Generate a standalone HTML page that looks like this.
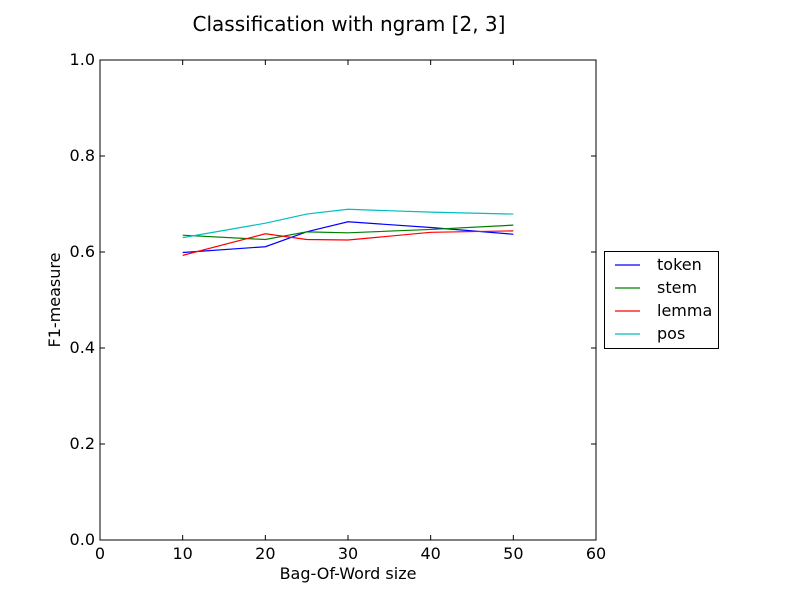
<!DOCTYPE html>
<html><head><meta charset="utf-8"><style>
body{margin:0;background:#fff;}
svg{display:block;font-family:"DejaVu Sans","Liberation Sans",sans-serif;}
</style></head><body>
<svg id="chart" width="800" height="600"></svg>
<script>
const xValues = [10, 20, 25, 30, 40, 50];
const seriesNames = ["token", "stem", "lemma", "pos"];
const tokenValues = [0.599, 0.611, 0.642, 0.663, 0.651, 0.637];
const stemValues = [0.635, 0.626, 0.642, 0.640, 0.647, 0.656];
const lemmaValues = [0.593, 0.638, 0.626, 0.625, 0.641, 0.644];
const posValues = [0.630, 0.660, 0.679, 0.689, 0.683, 0.679];
const xTicks = [0, 10, 20, 30, 40, 50, 60];
const yTicks = [0.0, 0.2, 0.4, 0.6, 0.8, 1.0];

const NS = "http://www.w3.org/2000/svg";
const svg = document.getElementById("chart");
const L = 100, R = 596, T = 60, B = 540;
const xs = v => L + (v - 0) / 60 * (R - L);
const ys = v => B - v * (B - T);
function mk(tag, attrs, parent) {
  const e = document.createElementNS(NS, tag);
  for (const k in attrs) e.setAttribute(k, attrs[k]);
  (parent || svg).appendChild(e);
  return e;
}
const colors = ["#0000ff", "#008000", "#ff0000", "#00bfbf"];
const allSeries = [tokenValues, stemValues, lemmaValues, posValues];

const title = mk("text", {x: 349, y: 31, "text-anchor": "middle", "font-size": 20});
title.textContent = "Classification with ngram [2, 3]";



const frame = mk("rect", {x: L, y: T, width: R - L, height: B - T, fill: "none", stroke: "#000", "stroke-width": 1});



xTicks.forEach(t => {
  const x = xs(t);
  mk("line", {x1: x, x2: x, y1: B, y2: B - 5, stroke: "#000"});
  mk("line", {x1: x, x2: x, y1: T, y2: T + 5, stroke: "#000"});
  const lb = mk("text", {x: x, y: B + 19, "text-anchor": "middle", "font-size": 16});
  lb.textContent = t;
  
  
});
yTicks.forEach(t => {
  const y = ys(t);
  mk("line", {x1: L, x2: L + 5, y1: y, y2: y, stroke: "#000"});
  mk("line", {x1: R, x2: R - 5, y1: y, y2: y, stroke: "#000"});
  const lb = mk("text", {x: L - 5, y: y + 5, "text-anchor": "end", "font-size": 16});
  lb.textContent = t.toFixed(1);
  
  
});
const xt = mk("text", {x: 348, y: 579, "text-anchor": "middle", "font-size": 16});
xt.textContent = "Bag-Of-Word size";


const yt = mk("text", {x: 60, y: 300, "text-anchor": "middle", "font-size": 16, transform: "rotate(-90 60 300)"});
yt.textContent = "F1-measure";



allSeries.forEach((vals, i) => {
  const pts = vals.map((v, j) => xs(xValues[j]) + "," + ys(v)).join(" ");
  const pl = mk("polyline", {points: pts, fill: "none", stroke: colors[i], "stroke-width": 1.2});
  
  
});

const lg = mk("g", {});


mk("rect", {x: 604.5, y: 251.5, width: 114, height: 97, fill: "#fff", stroke: "#000"}, lg);
seriesNames.forEach((n, i) => {
  const y = 265 + i * 23;
  const g = mk("g", {}, lg);
  
  
  mk("line", {x1: 615, x2: 640, y1: y, y2: y, stroke: colors[i], "stroke-width": 1.2}, g);
  const t = mk("text", {x: 657, y: y + 5, "font-size": 16}, g);
  t.textContent = n;
});
</script>
</body></html>
